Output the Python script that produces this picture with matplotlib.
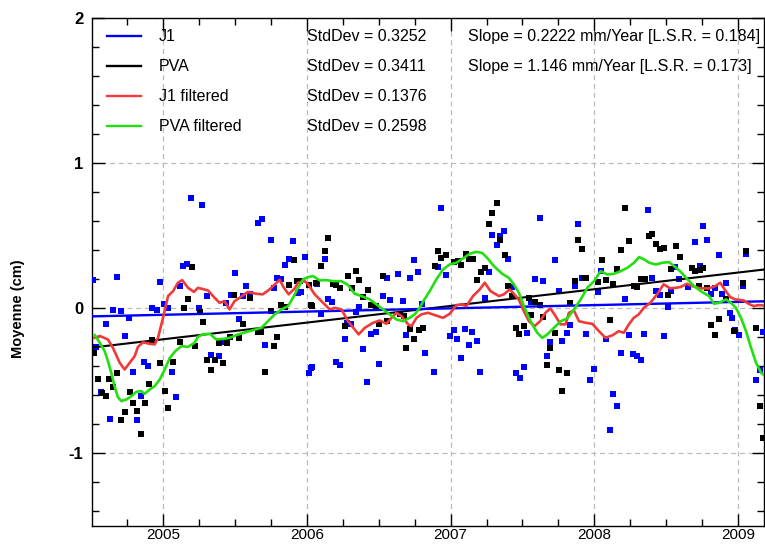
import matplotlib
matplotlib.use("Agg")
import matplotlib.pyplot as plt
from matplotlib.lines import Line2D
from matplotlib.ticker import MultipleLocator

plt.rcParams['font.family'] = ['Liberation Sans', 'DejaVu Sans']

# ---------------- data ----------------
j1_t = [2004.513, 2004.536, 2004.570, 2004.601, 2004.629, 2004.652, 2004.682, 2004.710, 2004.733, 2004.766,
        2004.789, 2004.821, 2004.845, 2004.868, 2004.898, 2004.923, 2004.956, 2004.979, 2005.009, 2005.037,
        2005.065, 2005.088, 2005.118, 2005.141, 2005.169, 2005.197, 2005.253, 2005.273, 2005.308, 2005.336,
        2005.390, 2005.422, 2005.440, 2005.475, 2005.499, 2005.531, 2005.557, 2005.580, 2005.607, 2005.661,
        2005.689, 2005.712, 2005.749, 2005.772, 2005.795, 2005.823, 2005.851, 2005.879, 2005.906, 2005.939,
        2005.962, 2005.986, 2006.016, 2006.032, 2006.039, 2006.071, 2006.097, 2006.125, 2006.148, 2006.176,
        2006.206, 2006.229, 2006.263, 2006.282, 2006.306, 2006.340, 2006.361, 2006.391, 2006.420, 2006.449,
        2006.480, 2006.503, 2006.528, 2006.558, 2006.581, 2006.635, 2006.668, 2006.693, 2006.718, 2006.746,
        2006.772, 2006.804, 2006.825, 2006.885, 2006.913, 2006.936, 2006.971, 2006.995, 2007.024, 2007.047,
        2007.071, 2007.099, 2007.127, 2007.152, 2007.182, 2007.207, 2007.238, 2007.266, 2007.289, 2007.321,
        2007.344, 2007.374, 2007.400, 2007.428, 2007.454, 2007.481, 2007.509, 2007.534, 2007.562, 2007.586,
        2007.620, 2007.643, 2007.671, 2007.695, 2007.727, 2007.755, 2007.778, 2007.810, 2007.829, 2007.864,
        2007.889, 2007.917, 2007.943, 2007.973, 2007.998, 2008.026, 2008.049, 2008.084, 2008.107, 2008.133,
        2008.161, 2008.186, 2008.216, 2008.242, 2008.270, 2008.297, 2008.327, 2008.346, 2008.374, 2008.404,
        2008.432, 2008.459, 2008.485, 2008.513, 2008.536, 2008.559, 2008.590, 2008.650, 2008.703, 2008.734,
        2008.759, 2008.782, 2008.814, 2008.840, 2008.868, 2008.890, 2008.918, 2008.945, 2008.958, 2008.977,
        2009.005, 2009.035, 2009.057, 2009.127, 2009.151, 2009.176]
j1_v = [0.193, -0.267, -0.575, -0.104, -0.761, -0.010, 0.216, -0.020, -0.189, -0.065,
        -0.437, -0.770, -0.607, -0.368, -0.398, 0.002, -0.014, 0.179, 0.032, 0.004,
        -0.437, -0.610, 0.152, 0.290, 0.303, 0.763, 0.000, 0.710, 0.085, -0.320,
        -0.329, -0.230, 0.037, 0.092, 0.241, -0.076, 0.085, 0.156, 0.097, 0.590,
        0.614, -0.251, 0.473, 0.142, 0.209, 0.202, 0.296, 0.342, 0.464, 0.106,
        0.110, 0.354, -0.446, -0.410, -0.405, 0.166, -0.039, 0.338, 0.062, 0.046,
        -0.368, -0.389, -0.212, -0.099, -0.106, -0.026, 0.011, -0.281, -0.508, -0.175,
        -0.166, -0.382, 0.083, 0.207, 0.059, 0.239, 0.050, -0.186, 0.207, 0.331,
        0.248, 0.028, -0.306, -0.437, 0.285, 0.690, 0.230, -0.193, -0.150, -0.212,
        -0.345, -0.141, -0.255, -0.166, -0.228, -0.437, 0.069, 0.248, 0.506, 0.434,
        0.499, 0.533, 0.340, 0.147, -0.448, -0.478, -0.405, -0.172, 0.046, 0.202,
        0.621, 0.188, -0.329, -0.230, 0.333, 0.119, -0.225, -0.172, -0.115, 0.154,
        0.583, 0.207, -0.179, -0.492, -0.421, 0.114, 0.257, -0.214, -0.841, -0.593,
        -0.674, -0.306, 0.062, -0.186, -0.315, -0.331, -0.359, -0.179, 0.676, 0.209,
        0.119, 0.092, -0.191, 0.011, 0.119, 0.287, 0.204, 0.147, 0.457, 0.290,
        0.570, 0.473, 0.097, 0.142, 0.366, 0.097, 0.172, -0.034, -0.065, -0.148,
        -0.186, 0.154, 0.372, -0.492, -0.423, -0.163]

pva_t = [2004.518, 2004.548, 2004.574, 2004.601, 2004.626, 2004.652, 2004.682, 2004.710, 2004.733, 2004.768,
         2004.792, 2004.821, 2004.845, 2004.875, 2004.900, 2004.923, 2004.979, 2005.012, 2005.035, 2005.067,
         2005.118, 2005.146, 2005.174, 2005.202, 2005.220, 2005.255, 2005.278, 2005.308, 2005.336, 2005.364,
         2005.390, 2005.417, 2005.443, 2005.468, 2005.494, 2005.527, 2005.557, 2005.607, 2005.661, 2005.684,
         2005.712, 2005.749, 2005.772, 2005.795, 2005.823, 2005.851, 2005.879, 2005.909, 2005.930, 2005.953,
         2006.013, 2006.032, 2006.039, 2006.067, 2006.097, 2006.125, 2006.148, 2006.183, 2006.206, 2006.233,
         2006.263, 2006.287, 2006.317, 2006.340, 2006.363, 2006.391, 2006.426, 2006.449, 2006.484, 2006.503,
         2006.528, 2006.561, 2006.647, 2006.677, 2006.690, 2006.716, 2006.748, 2006.779, 2006.807, 2006.890,
         2006.913, 2006.936, 2006.967, 2007.024, 2007.052, 2007.071, 2007.106, 2007.129, 2007.157, 2007.182,
         2007.210, 2007.238, 2007.266, 2007.289, 2007.321, 2007.344, 2007.377, 2007.400, 2007.430, 2007.454,
         2007.479, 2007.509, 2007.544, 2007.562, 2007.586, 2007.620, 2007.643, 2007.671, 2007.695, 2007.727,
         2007.755, 2007.778, 2007.810, 2007.831, 2007.864, 2007.887, 2007.917, 2007.930, 2007.943, 2008.026,
         2008.054, 2008.084, 2008.107, 2008.133, 2008.161, 2008.186, 2008.216, 2008.240, 2008.277, 2008.300,
         2008.323, 2008.351, 2008.381, 2008.404, 2008.427, 2008.459, 2008.483, 2008.513, 2008.536, 2008.567,
         2008.594, 2008.680, 2008.703, 2008.729, 2008.734, 2008.757, 2008.784, 2008.814, 2008.838, 2008.868,
         2008.918, 2008.972, 2009.035, 2009.055, 2009.127, 2009.151, 2009.176]
pva_v = [-0.306, -0.486, -0.586, -0.603, -0.486, -0.541, -0.446, -0.770, -0.715, -0.577,
         -0.655, -0.710, -0.867, -0.655, -0.522, -0.219, -0.375, -0.568, -0.688, -0.368,
         -0.234, 0.004, 0.062, 0.287, -0.258, -0.023, -0.094, -0.358, -0.423, -0.354,
         -0.239, -0.375, -0.239, -0.200, 0.092, -0.203, -0.104, 0.073, -0.161, -0.161,
         -0.437, -0.019, -0.258, -0.196, 0.021, 0.011, 0.161, 0.333, 0.188, 0.188,
         0.161, 0.021, 0.016, 0.174, 0.294, 0.395, 0.487, 0.166, 0.161, 0.142,
         -0.120, 0.225, 0.142, 0.255, 0.193, 0.078, 0.124, 0.023, 0.014, -0.104,
         0.223, -0.088, -0.037, -0.053, -0.272, -0.141, -0.214, -0.152, -0.134, 0.294,
         0.395, 0.349, 0.366, 0.317, 0.326, 0.299, 0.372, 0.338, 0.342, 0.193,
         0.252, 0.276, 0.583, 0.659, 0.724, 0.471, 0.366, 0.154, 0.085, -0.134,
         -0.175, -0.120, 0.073, -0.048, 0.046, 0.021, -0.060, -0.391, -0.272, -0.168,
         -0.423, -0.566, -0.444, 0.034, 0.186, 0.473, 0.409, 0.209, 0.209, 0.181,
         0.333, 0.193, -0.079, 0.168, 0.269, 0.402, 0.690, 0.464, 0.152, 0.147,
         0.200, 0.200, 0.499, 0.514, 0.441, 0.411, 0.418, 0.092, 0.269, 0.428,
         0.354, 0.276, 0.257, 0.152, 0.262, 0.276, 0.142, -0.117, -0.186, -0.076,
         0.066, -0.157, 0.172, 0.395, -0.134, -0.674, -0.892]

j1f_t = [2004.525, 2004.560, 2004.617, 2004.652, 2004.699, 2004.733, 2004.768, 2004.803, 2004.826, 2004.861,
         2004.907, 2004.942, 2004.965, 2005.000, 2005.035, 2005.070, 2005.104, 2005.134, 2005.174, 2005.215,
         2005.243, 2005.313, 2005.359, 2005.393, 2005.428, 2005.463, 2005.497, 2005.532, 2005.590, 2005.648,
         2005.694, 2005.741, 2005.811, 2005.841, 2005.874, 2005.916, 2005.939, 2005.985, 2006.009, 2006.055,
         2006.113, 2006.160, 2006.194, 2006.241, 2006.287, 2006.333, 2006.361, 2006.403, 2006.461, 2006.508,
         2006.554, 2006.589, 2006.624, 2006.659, 2006.705, 2006.728, 2006.763, 2006.797, 2006.844, 2006.890,
         2006.948, 2006.994, 2007.041, 2007.075, 2007.110, 2007.156, 2007.203, 2007.238, 2007.278, 2007.336,
         2007.371, 2007.411, 2007.432, 2007.474, 2007.510, 2007.545, 2007.584, 2007.623, 2007.660, 2007.695,
         2007.730, 2007.765, 2007.800, 2007.823, 2007.858, 2007.893, 2007.940, 2007.986, 2008.032, 2008.078,
         2008.128, 2008.170, 2008.205, 2008.240, 2008.274, 2008.309, 2008.344, 2008.390, 2008.436, 2008.482,
         2008.528, 2008.563, 2008.598, 2008.644, 2008.679, 2008.737, 2008.795, 2008.841, 2008.876, 2008.906,
         2008.945, 2008.980, 2009.038, 2009.073, 2009.108, 2009.142, 2009.180]
j1f_v = [-0.203, -0.190, -0.214, -0.272, -0.375, -0.421, -0.375, -0.329, -0.265, -0.234,
         -0.244, -0.248, -0.203, -0.065, 0.085, 0.119, 0.177, 0.195, 0.142, 0.114,
         0.142, 0.124, 0.073, 0.039, 0.050, -0.007, 0.050, 0.073, 0.114, 0.101,
         0.097, 0.131, 0.197, 0.142, 0.097, 0.138, 0.177, 0.188, 0.166, 0.097,
         0.039, -0.007, 0.004, -0.007, -0.088, -0.145, -0.179, -0.134, -0.099, -0.083,
         -0.106, -0.065, -0.030, -0.053, -0.110, -0.122, -0.065, -0.041, -0.030, -0.046,
         -0.065, -0.037, 0.023, 0.028, 0.016, 0.085, 0.131, 0.177, 0.119, 0.085,
         0.097, 0.131, 0.110, 0.062, -0.019, -0.088, -0.122, -0.088, -0.030, 0.000,
         -0.053, -0.110, -0.110, -0.030, -0.014, -0.088, -0.099, -0.106, -0.157, -0.203,
         -0.184, -0.157, -0.168, -0.110, -0.065, -0.041, 0.004, 0.039, 0.097, 0.166,
         0.138, 0.142, 0.147, 0.170, 0.154, 0.138, 0.138, 0.154, 0.177, 0.131,
         0.078, 0.062, 0.055, 0.032, 0.016, 0.023, 0.020]

pvaf_t = [2004.525, 2004.560, 2004.594, 2004.617, 2004.640, 2004.663, 2004.686, 2004.710, 2004.745, 2004.780,
          2004.814, 2004.849, 2004.872, 2004.907, 2004.942, 2004.977, 2005.012, 2005.047, 2005.086, 2005.128,
          2005.174, 2005.220, 2005.243, 2005.278, 2005.325, 2005.371, 2005.417, 2005.464, 2005.510, 2005.568,
          2005.626, 2005.684, 2005.730, 2005.777, 2005.823, 2005.870, 2005.904, 2005.939, 2005.974, 2006.009,
          2006.044, 2006.090, 2006.136, 2006.183, 2006.241, 2006.287, 2006.333, 2006.380, 2006.438, 2006.484,
          2006.531, 2006.577, 2006.623, 2006.670, 2006.716, 2006.751, 2006.785, 2006.808, 2006.855, 2006.901,
          2006.948, 2006.994, 2007.041, 2007.087, 2007.133, 2007.180, 2007.219, 2007.254, 2007.301, 2007.359,
          2007.405, 2007.440, 2007.475, 2007.510, 2007.545, 2007.568, 2007.603, 2007.638, 2007.673, 2007.719,
          2007.766, 2007.812, 2007.858, 2007.905, 2007.951, 2007.998, 2008.044, 2008.090, 2008.137, 2008.183,
          2008.230, 2008.276, 2008.311, 2008.346, 2008.381, 2008.428, 2008.474, 2008.520, 2008.555, 2008.601,
          2008.648, 2008.694, 2008.740, 2008.798, 2008.833, 2008.868, 2008.915, 2008.950, 2008.985, 2009.020,
          2009.055, 2009.090, 2009.125, 2009.160, 2009.180]
pvaf_v = [-0.184, -0.237, -0.294, -0.363, -0.444, -0.536, -0.612, -0.639, -0.628, -0.605,
          -0.575, -0.570, -0.589, -0.559, -0.536, -0.490, -0.421, -0.341, -0.294, -0.260,
          -0.265, -0.237, -0.195, -0.179, -0.175, -0.214, -0.210, -0.203, -0.184, -0.166,
          -0.150, -0.134, -0.088, -0.041, -0.007, 0.016, 0.073, 0.142, 0.200, 0.216,
          0.223, 0.193, 0.195, 0.188, 0.188, 0.161, 0.101, 0.085, 0.062, 0.028,
          -0.007, -0.041, -0.076, -0.088, -0.065, -0.041, 0.004, 0.046, 0.119, 0.200,
          0.269, 0.303, 0.315, 0.345, 0.377, 0.390, 0.383, 0.349, 0.292, 0.239,
          0.211, 0.166, 0.108, 0.016, -0.065, -0.110, -0.168, -0.203, -0.179, -0.134,
          -0.088, -0.069, -0.007, 0.062, 0.142, 0.188, 0.257, 0.234, 0.239, 0.257,
          0.280, 0.315, 0.354, 0.338, 0.315, 0.303, 0.315, 0.319, 0.292, 0.252,
          0.200, 0.154, 0.119, 0.085, 0.032, 0.039, 0.062, 0.039, 0.004, -0.065,
          -0.157, -0.272, -0.375, -0.444, -0.460]

# linear trends (end points)
trend_t = [2004.504, 2009.18]
j1_trend = [-0.055, 0.049]
pva_trend = [-0.270, 0.268]

labels = ['J1', 'PVA', 'J1 filtered', 'PVA filtered']
stddevs = ['StdDev = 0.3252', 'StdDev = 0.3411', 'StdDev = 0.1376', 'StdDev = 0.2598']
slopes = ['Slope = 0.2222 mm/Year [L.S.R. = 0.184]', 'Slope = 1.146 mm/Year [L.S.R. = 0.173]']
year_ticks = [2005, 2006, 2007, 2008, 2009]
y_ticks = [2, 1, 0, -1]

BLUE = '#0000ff'
BLACK = '#000000'
RED = '#f03a3a'
GREEN = '#22e010'

# ---------------- figure ----------------
fig = plt.figure(figsize=(7.65, 5.45), dpi=100)
ax = fig.add_axes([91.7 / 765, 1 - 526 / 545, (764 - 91.7) / 765, (526 - 18.3) / 545])

ax.scatter(j1_t, j1_v, s=14, marker='s', color=BLUE, linewidths=0, zorder=3)
ax.scatter(pva_t, pva_v, s=14, marker='s', color=BLACK, linewidths=0, zorder=3)
ax.plot(trend_t, pva_trend, color=BLACK, lw=1.5, zorder=4)
ax.plot(trend_t, j1_trend, color=BLUE, lw=1.7, zorder=4)
ax.plot(j1f_t, j1f_v, color=RED, lw=1.9, zorder=5)
ax.plot(pvaf_t, pvaf_v, color=GREEN, lw=1.9, zorder=5)

ax.set_xlim(2004.504, 2009.18)
ax.set_ylim(-1.5, 2)
ax.set_xticks(year_ticks)
ax.set_xticklabels([str(y) for y in year_ticks])
ax.set_yticks(y_ticks)
ax.set_yticklabels([str(v) for v in y_ticks], fontweight='bold', fontsize=12)
ax.xaxis.set_minor_locator(MultipleLocator(0.25))
ax.yaxis.set_minor_locator(MultipleLocator(0.2))
ax.tick_params(which='both', direction='in', top=True, right=True, width=1)
ax.tick_params(which='major', length=9)
ax.tick_params(which='minor', length=5)
ax.tick_params(axis='x', labelsize=11, pad=1.5)
ax.tick_params(axis='y', pad=6)
ax.grid(True, which='major', linestyle=(0, (4, 3)), color='#bbbbbb', linewidth=0.9)
ax.set_axisbelow(True)
for s in ax.spines.values():
    s.set_linewidth(1)

ax.set_ylabel('Moyenne (cm)', fontweight='bold', fontsize=10.5)
ax.yaxis.set_label_coords(-0.0985, 0.429)

# custom legend
rows = [0.9646, 0.9055, 0.8465, 0.7874]
colors = [BLUE, BLACK, RED, GREEN]
for i in range(4):
    ax.add_line(Line2D([0.0228, 0.0733], [rows[i], rows[i]], transform=ax.transAxes,
                       color=colors[i], lw=1.7, zorder=6))
    ax.text(0.100, rows[i], labels[i], transform=ax.transAxes, fontsize=11.5, va='center', ha='left')
    ax.text(0.320, rows[i], stddevs[i], transform=ax.transAxes, fontsize=11.5, va='center', ha='left')
for i in range(2):
    ax.text(0.560, rows[i], slopes[i], transform=ax.transAxes, fontsize=11.5, va='center', ha='left')

fig.savefig('out.png', dpi=100)
